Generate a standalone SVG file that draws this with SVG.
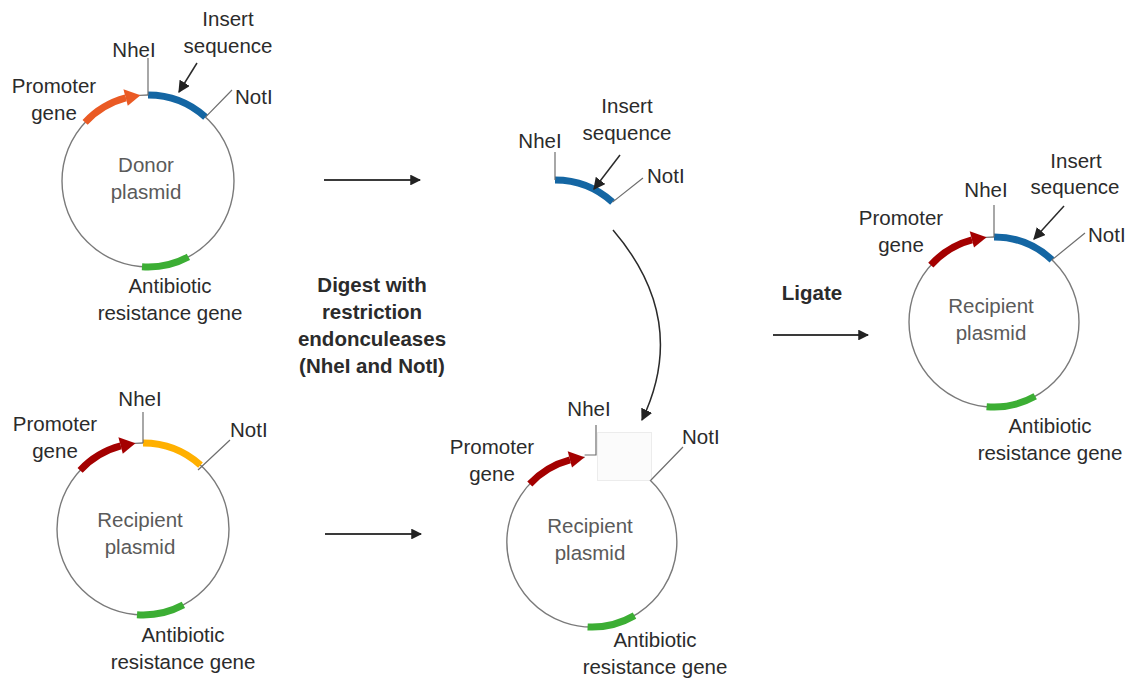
<svg xmlns="http://www.w3.org/2000/svg" width="1134" height="682" viewBox="0 0 1134 682">
<defs>
<style>
text{font-family:"Liberation Sans",Arial,sans-serif;font-size:20.5px;fill:#2b2b2b}
.c{text-anchor:middle}
.name{fill:#5a5a5a}
.b{font-weight:bold}
.ring{fill:none;stroke:#7a7a7a;stroke-width:1.4}
.thin{fill:none;stroke:#6e6e6e;stroke-width:1.2}
.seg{fill:none;stroke-width:7}
.blue{stroke:#1466a3}
.green{stroke:#3cae34}
.orange{stroke:#ea5a24}
.red{stroke:#a40000}
.yellow{stroke:#ffb000}
.conn{fill:none;stroke:#3a3a3a;stroke-width:1.8}
.ptr{fill:none;stroke:#2a2a2a;stroke-width:1.5}
</style>
<marker id="ah" viewBox="0 0 10 10" refX="9" refY="5" markerWidth="6" markerHeight="6" markerUnits="strokeWidth" orient="auto"><path d="M0,0L10,5L0,10z" fill="#222"/></marker>
<marker id="ah2" viewBox="0 0 10 10" refX="9" refY="5" markerWidth="8" markerHeight="8" markerUnits="strokeWidth" orient="auto"><path d="M0,0L10,5L0,10z" fill="#222"/></marker>
</defs>
<rect width="1134" height="682" fill="#fff"/>

<g id="donor-plasmid">
<g transform="translate(148,181)">
<circle class="ring" r="86"/>
<path class="seg orange" d="M-62.9,-58.7A86 86 0 0 1 -22.3,-83.1"/>
<path fill="#ea5a24" d="M-20.2,-75.3L-24.6,-91.8L-7.5,-85.7z"/>
<path class="seg blue" d="M0,-86A86 86 0 0 1 57.5,-63.9"/>
<path class="seg green" d="M40.4,75.9A86 86 0 0 1 -6,85.8"/>
<path class="thin" d="M0,-86V-123M57.5,-63.9L84,-91"/>
</g>
<path class="ptr" d="M197,63L179,92" marker-end="url(#ah2)"/>
<text class="c" x="228" y="26">Insert</text>
<text class="c" x="228" y="53">sequence</text>
<text class="c" x="134" y="57">NheI</text>
<text x="235" y="104">NotI</text>
<text class="c" x="54" y="93">Promoter</text>
<text class="c" x="54" y="120">gene</text>
<text class="c name" x="146" y="172">Donor</text>
<text class="c name" x="146" y="199">plasmid</text>
<text class="c" x="170" y="293">Antibiotic</text>
<text class="c" x="170" y="320">resistance gene</text>
</g>

<g id="recipient-plasmid">
<g transform="translate(143,529)">
<circle class="ring" r="86"/>
<path class="seg red" d="M-62.9,-58.7A86 86 0 0 1 -22.3,-83.1"/>
<path fill="#a40000" d="M-20.2,-75.3L-24.6,-91.8L-7.5,-85.7z"/>
<path class="seg yellow" d="M0,-86A86 86 0 0 1 57.5,-63.9"/>
<path class="seg green" d="M40.4,75.9A86 86 0 0 1 -6,85.8"/>
<path class="thin" d="M0,-86V-117M55,-59L87,-89"/>
</g>
<text class="c" x="140" y="406">NheI</text>
<text x="230" y="437">NotI</text>
<text class="c" x="55" y="431">Promoter</text>
<text class="c" x="55" y="458">gene</text>
<text class="c name" x="140" y="527">Recipient</text>
<text class="c name" x="140" y="554">plasmid</text>
<text class="c" x="183" y="642">Antibiotic</text>
<text class="c" x="183" y="669">resistance gene</text>
</g>

<g id="insert-fragment">
<path class="seg blue" d="M555,180A86 86 0 0 1 612.5,202.1"/>
<path class="thin" d="M555,180V152M612.5,202.1L643,178"/>
<path class="ptr" d="M620,155L594,189" marker-end="url(#ah2)"/>
<text class="c" x="540" y="148">NheI</text>
<text class="c" x="627" y="113">Insert</text>
<text class="c" x="627" y="140">sequence</text>
<text x="647" y="183">NotI</text>
</g>

<g id="digested-plasmid">
<rect x="597.5" y="432.5" width="54" height="48" fill="#fbfbfb" stroke="#ececec" stroke-width="1"/>
<g transform="translate(592,542)">
<path class="ring" d="M58,-62A85 85 0 1 1 -7.4,-84.7"/>
<path class="seg red" d="M-62.2,-58A85 85 0 0 1 -22,-82.1"/>
<path fill="#a40000" d="M-20,-74.4L-24.3,-90.7L-7.4,-84.7z"/>
<path class="seg green" d="M42.5,73.6A85 85 0 0 1 -4.4,84.9"/>
</g>
<path class="thin" d="M584.6,455H596V425M651,480L683,447"/>
<text class="c" x="589" y="416">NheI</text>
<text x="682" y="444">NotI</text>
<text class="c" x="492" y="454">Promoter</text>
<text class="c" x="492" y="481">gene</text>
<text class="c name" x="590" y="533">Recipient</text>
<text class="c name" x="590" y="560">plasmid</text>
<text class="c" x="655" y="647">Antibiotic</text>
<text class="c" x="655" y="674">resistance gene</text>
</g>

<g id="ligated-plasmid">
<g transform="translate(994,322)">
<circle class="ring" r="85"/>
<path class="seg red" d="M-63.2,-56.9A85 85 0 0 1 -22,-82.1"/>
<path fill="#a40000" d="M-20,-74.4L-24.3,-90.7L-7.4,-84.7z"/>
<path class="seg blue" d="M0,-85A85 85 0 0 1 58,-62.1"/>
<path class="seg green" d="M41.2,74.3A85 85 0 0 1 -7.4,84.7"/>
<path class="thin" d="M0,-85V-117M58,-62.1L91,-89"/>
</g>
<path class="ptr" d="M1064,206L1034,239" marker-end="url(#ah2)"/>
<text class="c" x="986" y="197">NheI</text>
<text class="c" x="1076" y="168">Insert</text>
<text class="c" x="1075" y="194">sequence</text>
<text x="1088" y="242">NotI</text>
<text class="c" x="901" y="225">Promoter</text>
<text class="c" x="901" y="252">gene</text>
<text class="c name" x="991" y="313">Recipient</text>
<text class="c name" x="991" y="340">plasmid</text>
<text class="c" x="1050" y="433">Antibiotic</text>
<text class="c" x="1050" y="460">resistance gene</text>
</g>

<g id="connectors">
<path class="conn" d="M324,180H420" marker-end="url(#ah)"/>
<path class="conn" d="M325,534H421" marker-end="url(#ah)"/>
<path class="conn" d="M773,335H868" marker-end="url(#ah)"/>
<path class="ptr" d="M613,230Q690,320 642,420" marker-end="url(#ah2)"/>
</g>

<g id="labels">
<text class="c b" x="372" y="292">Digest with</text>
<text class="c b" x="372" y="319">restriction</text>
<text class="c b" x="372" y="346">endonculeases</text>
<text class="c b" x="372" y="373">(NheI and NotI)</text>
<text class="c b" x="812" y="300">Ligate</text>
</g>
</svg>
